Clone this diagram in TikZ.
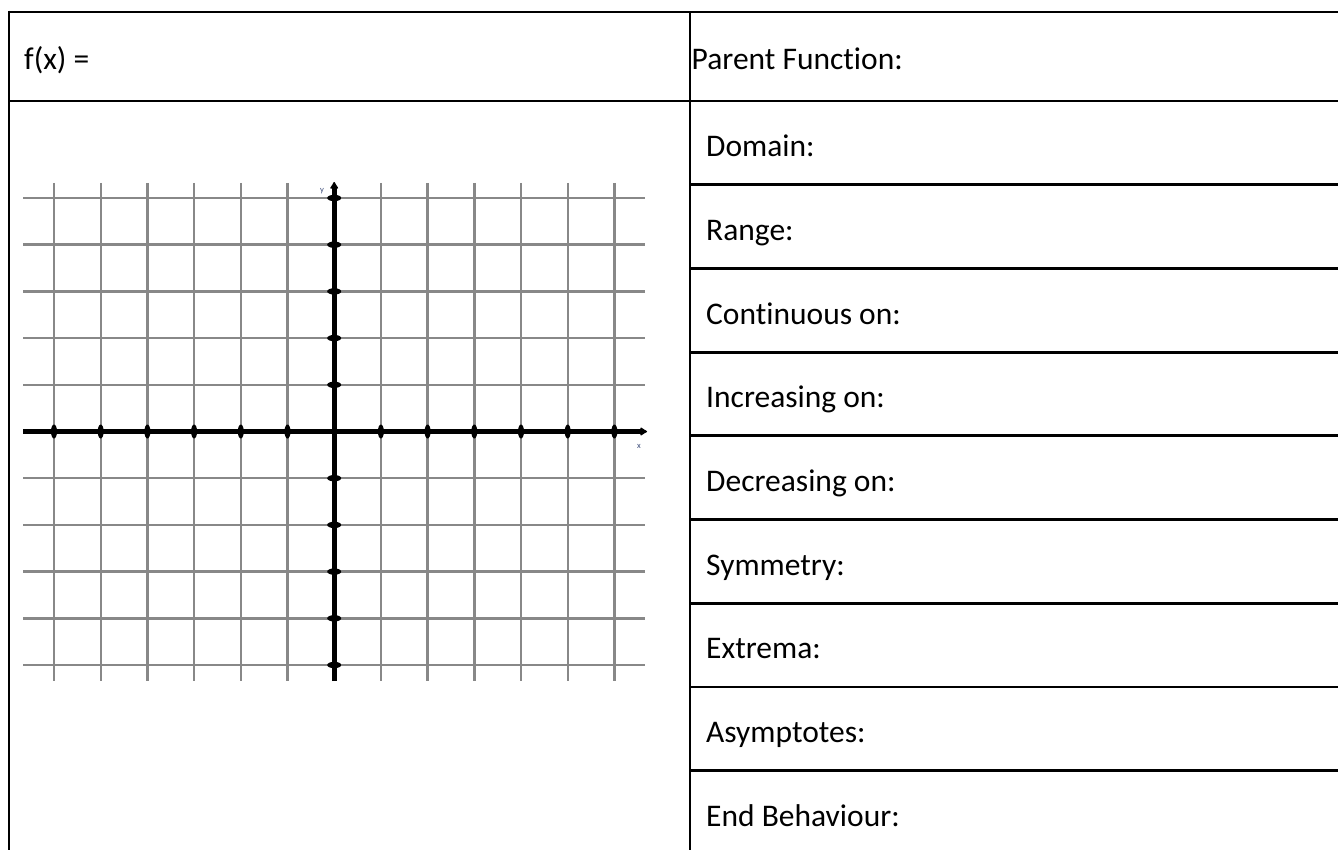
\documentclass[tikz,border=0pt]{standalone}
\usepackage{fontspec}
\setmainfont{Carlito}[Ligatures={NoCommon}]
\usetikzlibrary{arrows.meta}
\definecolor{gridgray}{HTML}{888888}
\definecolor{axlabel}{HTML}{3A4A78}
\tikzset{
  tableline/.style={line width=2.8pt, black},
  gridline/.style={line width=2.4pt, gridgray},
  axisline/.style={line width=5pt, black},
  lbl/.style={anchor=base west, inner sep=0pt, font=\fontsize{31.5}{32}\selectfont},
  axlbl/.style={inner sep=0pt, font=\fontsize{8.5}{8.5}\selectfont\rmfamily, text=axlabel},
}
\begin{document}
\begin{tikzpicture}[x=1pt,y=-1pt]
\useasboundingbox (0,0) rectangle (1338,850);
% table
\draw[tableline] (9,12) -- (1340,12);
\draw[tableline] (9,10.6) -- (9,852);
\draw[tableline] (690,12) -- (690,852);
\draw[tableline] (9,101) -- (1340,101);
\foreach \i in {1,...,8} {
  \draw[tableline] (690,{101+83.7*\i}) -- (1340,{101+83.7*\i});
}
% texts
\node[lbl] (fx) at (24,70) {f(x) =};
\node[lbl] (parent) at (691.5,70) {Parent Function:};
\foreach \t [count=\k from 0] in {Domain:,Range:,Continuous on:,Increasing on:,Decreasing on:,Symmetry:,Extrema:,Asymptotes:,End Behaviour:} {
  \node[lbl] (row\k) at (706,{156.7+83.7*\k}) {\t};
}
% grid
\foreach \i in {0,...,12} {
  \draw[gridline] ({54+46.7*\i},183) -- ({54+46.7*\i},681);
}
\foreach \j in {0,...,10} {
  \draw[gridline] (23,{198+46.7*\j}) -- (645,{198+46.7*\j});
}
% axes
\coordinate (xs) at (23,431.5);
\coordinate (xe) at (647,431.5);
\coordinate (ys) at (334.2,681);
\coordinate (ye) at (334.2,182);
\draw[axisline, -{Latex[round,length=8pt,width=10pt]}] (xs) -- (xe);
\draw[axisline, -{Latex[round,length=8pt,width=10pt]}] (ys) -- (ye);
% ticks
\foreach \i in {0,...,5,7,8,...,12} {
  \fill[black] ({54+46.7*\i},431.5) ellipse [x radius=3, y radius=7];
}
\foreach \j in {0,...,4,6,7,...,10} {
  \fill[black] (334.2,{198+46.7*\j}) ellipse [x radius=7, y radius=3.2];
}
\node[axlbl] (ylab) at (322,191.5) {y};
\node[axlbl] (xlab) at (639,446.5) {x};
\end{tikzpicture}
\end{document}
